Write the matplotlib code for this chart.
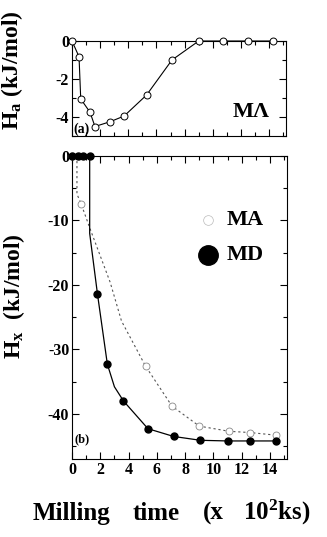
import matplotlib
matplotlib.use("Agg")
import matplotlib.pyplot as plt
from matplotlib.ticker import MultipleLocator

plt.rcParams['font.family'] = ['Liberation Serif', 'DejaVu Serif']
plt.rcParams['font.weight'] = 'bold'
plt.rcParams['mathtext.fontset'] = 'custom'
plt.rcParams['mathtext.rm'] = 'Liberation Serif:bold'
plt.rcParams['mathtext.bf'] = 'Liberation Serif:bold'
plt.rcParams['mathtext.it'] = 'Liberation Serif:bold'

# Panel (a): MA, H_a
a_x = [0, 0.5, 0.62, 1.28, 1.63, 2.7, 3.7, 5.3, 7.1, 9.0, 10.7, 12.5, 14.3]
a_y = [0, -0.83, -3.05, -3.75, -4.5, -4.25, -3.95, -2.84, -1.0, 0, 0, 0, 0]

# Panel (b): MD (filled)
md_x = [0, 0.4, 0.75, 1.25, 1.8, 2.5, 3.64, 5.37, 7.18, 9.08, 11.0, 12.6, 14.4]
md_y = [0, 0, 0, 0, -21.4, -32.3, -38.0, -42.3, -43.5, -44.1, -44.2, -44.2, -44.2]
md_line_x = [0, 1.25, 1.25, 1.8, 2.5, 3.0, 3.64, 5.37, 7.18, 9.08, 11.0, 12.6, 14.4]
md_line_y = [0, 0, -12.0, -21.4, -32.3, -35.8, -38.0, -42.3, -43.5, -44.1, -44.2, -44.2, -44.2]

# Panel (b): MA (open)
ma_x = [0, 0.5, 0.64, 5.2, 7.07, 9.0, 11.1, 12.6, 14.4]
ma_y = [0, 0, -7.4, -32.6, -38.8, -41.9, -42.7, -42.9, -43.3]
ma_line_x = [0.35, 0.35, 0.64, 1.28, 2.7, 3.5, 5.2, 7.07, 9.0, 11.1, 12.6, 14.4]
ma_line_y = [0, -5.9, -7.4, -11.3, -19.6, -25.6, -32.6, -38.8, -41.9, -42.7, -42.9, -43.3]

x_ticks = [0, 2, 4, 6, 8, 10, 12, 14]
b_yticks = [0, -10, -20, -30, -40]
a_yticks = [0, -2, -4]

W, H = 327, 537
fig = plt.figure(figsize=(W / 100, H / 100), dpi=100)

def box(l, t, r, b):
    return [l / W, 1 - b / H, (r - l) / W, (b - t) / H]

ax1 = fig.add_axes(box(72, 41, 286, 136))
ax2 = fig.add_axes(box(72, 156, 287, 459))

for ax in (ax1, ax2):
    ax.set_xlim(0, 15.2)
    ax.tick_params(direction='in', top=True, right=True, which='both',
                   labelsize=11.5, pad=2, width=0.8)
    ax.tick_params(which='major', length=5)
    ax.tick_params(which='minor', length=3)
    ax.xaxis.set_major_locator(MultipleLocator(2))
    ax.xaxis.set_minor_locator(MultipleLocator(1))
    for s in ax.spines.values():
        s.set_linewidth(0.8)

# top panel
ax1.set_ylim(-5, 0)
ax1.set_yticks(a_yticks)
ax1.set_yticklabels([str(v) for v in a_yticks])
ax1.yaxis.set_minor_locator(MultipleLocator(1))
ax1.set_xticklabels([])
ax1.plot(a_x, a_y, '-', color='black', lw=0.8, marker='o', ms=5,
         mfc='white', mec='black', mew=0.7, clip_on=False, zorder=3)
ax1.text(0.925, 0.25, 'MΛ', transform=ax1.transAxes, ha='right', va='center',
         fontsize=16, fontweight='bold')
ax1.text(0.005, 0.07, '(a)', transform=ax1.transAxes, ha='left', va='center',
         fontsize=10, fontweight='bold')
ax1.set_ylabel(r'$\mathregular{H_a}$ (kJ/mol)', fontsize=17, fontweight='bold')
ax1.yaxis.set_label_coords((25 - 72) / 214, (136 - 70) / 95)

# bottom panel
ax2.set_ylim(-47, 0)
ax2.set_yticks(b_yticks)
ax2.set_yticklabels(['0', '-10', '-20', '-30', '-40'])
ax2.yaxis.set_minor_locator(MultipleLocator(5))
ax2.set_xticks(x_ticks)
ax2.set_xticklabels([str(v) for v in x_ticks])
ax2.plot(ma_line_x, ma_line_y, linestyle=(0, (2, 2.5)), color='#555555', lw=0.8)
ax2.plot(ma_x, ma_y, 'o', ms=5, mfc='white', mec='#888888', mew=0.6,
         clip_on=False, zorder=3)
ax2.plot(md_line_x, md_line_y, '-', color='black', lw=0.9)
ax2.plot(md_x, md_y, 'o', ms=5, color='black', clip_on=False, zorder=4)
ax2.text(0.01, 0.065, '(b)', transform=ax2.transAxes, ha='left', va='center',
         fontsize=9, fontweight='bold')

# legend (manual)
ax2.plot([9.6], [-10.0], 'o', ms=7, mfc='white', mec='#bbbbbb', mew=0.5)
ax2.plot([9.6], [-15.3], 'o', ms=14, color='black')
ax2.text(10.9, -10.0, 'MA', ha='left', va='center', fontsize=16, fontweight='bold')
ax2.text(10.9, -15.3, 'MD', ha='left', va='center', fontsize=16, fontweight='bold')
ax2.set_ylabel(r'$\mathregular{H_x}$  (kJ/mol)', fontsize=17, fontweight='bold')
ax2.yaxis.set_label_coords((27 - 72) / 215, (459 - 296) / 303)

ly = 1 - 520 / H
fig.text(33 / W, ly, 'Milling', ha='left', va='baseline', fontsize=18, fontweight='bold')
fig.text(133 / W, ly, 'time', ha='left', va='baseline', fontsize=18, fontweight='bold')
fig.text(203 / W, ly, '(x', ha='left', va='baseline', fontsize=18, fontweight='bold')
fig.text(243 / W, ly, r'10$^{\mathregular{2}}$ks)', ha='left', va='baseline',
         fontsize=18, fontweight='bold')

fig.savefig('out.png', dpi=100)
